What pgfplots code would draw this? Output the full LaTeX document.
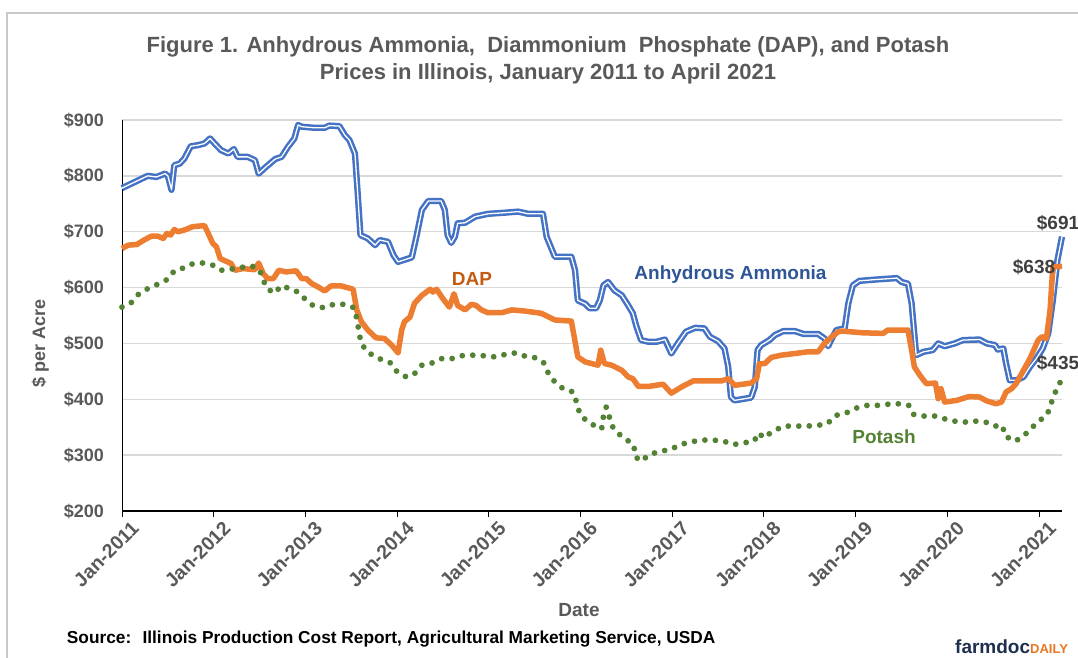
\documentclass[border=0pt]{standalone}
\usepackage{fontspec}
\setmainfont{Liberation Sans}
\usepackage{pgfplots}
\pgfplotsset{compat=1.18}
\definecolor{ammblue}{HTML}{4472C4}
\definecolor{daporange}{HTML}{ED7D31}
\definecolor{potgreen}{HTML}{548235}
\definecolor{labgray}{HTML}{595959}
\definecolor{gridgray}{HTML}{D9D9D9}
\definecolor{ammlab}{HTML}{2F5597}
\definecolor{daplab}{HTML}{C55A11}
\definecolor{dlab}{HTML}{404040}
\definecolor{framegray}{HTML}{C8C8C8}
\definecolor{navy}{HTML}{1F2D4E}
\definecolor{logoorange}{HTML}{E87722}
\newcommand\fs[1]{\fontsize{#1}{#1}\selectfont\bfseries}
\begin{document}
\begin{tikzpicture}[x=1pt,y=1pt]
\path[use as bounding box] (0,0) rectangle (1078,658);
\draw[framegray, line width=2pt] (7,0) -- (7,644.7) -- (1078,644.7);
\node[anchor=base, labgray, font=\fs{22}, inner sep=0pt] at (548,605) {Figure 1. Anhydrous Ammonia,~ Diammonium~ Phosphate (DAP), and Potash};
\node[anchor=base, labgray, font=\fs{22}, inner sep=0pt] at (548,578) {Prices in Illinois, January 2011 to April 2021};
\node[anchor=base, labgray, font=\fs{18}, inner sep=0pt, rotate=90] at (45,315) {\$ per Acre};
\node[anchor=base, labgray, font=\fs{19}, inner sep=0pt] at (579,41) {Date};
\node[anchor=base west, black, font=\fs{17.3}, inner sep=0pt] at (66.7,14) {Source:~ Illinois Production Cost Report, Agricultural Marketing Service, USDA};
\node[anchor=base west, inner sep=0pt] at (955,4) {\fs{19}\color{navy}farmdoc\fs{13}\color{logoorange}DAILY};
\begin{axis}[
  at={(122pt,147pt)}, anchor=south west, scale only axis,
  width=940pt, height=391pt,
  xmin=2011, xmax=2021.25, ymin=200, ymax=900,
  axis x line*=bottom, axis y line*=left,
  x axis line style={black, line width=1.5pt, -},
  y axis line style={black, line width=0.9pt, -},
  xtick={2011,2012,2013,2014,2015,2016,2017,2018,2019,2020,2021},
  xticklabels={Jan-2011,Jan-2012,Jan-2013,Jan-2014,Jan-2015,Jan-2016,Jan-2017,Jan-2018,Jan-2019,Jan-2020,Jan-2021},
  ytick={200,300,400,500,600,700,800,900},
  yticklabels={\$200,\$300,\$400,\$500,\$600,\$700,\$800,\$900},
  tick align=outside, major tick length=6pt,
  xtick style={black, line width=1pt},
  ytick style={draw=none},
  xticklabel style={rotate=45, anchor=north east, font=\fs{19.5}, labgray, inner sep=1pt, yshift=-7pt, xshift=5pt},
  yticklabel style={anchor=east, font=\fs{18}, labgray, inner sep=0pt, xshift=-12pt},
  ymajorgrids, major grid style={gridgray, line width=1.3pt},
  clip=false,
]
\addplot[ammblue, line width=2.5pt, double=white, double distance=1.3pt, line join=round] coordinates {
(2011.00,778) (2011.14,789) (2011.28,800) (2011.375,798) (2011.47,804) (2011.50,800) (2011.54,775) (2011.57,819) (2011.63,822) (2011.68,831) (2011.75,853) (2011.83,855) (2011.90,858) (2011.96,867) (2012.01,858) (2012.08,846) (2012.16,840) (2012.22,848) (2012.26,834) (2012.37,834) (2012.45,828) (2012.49,804) (2012.57,816) (2012.67,830) (2012.74,834) (2012.81,852) (2012.88,867) (2012.92,891) (2012.96,888) (2013.10,886) (2013.21,886) (2013.26,890) (2013.37,889) (2013.43,873) (2013.48,864) (2013.54,840) (2013.57,769) (2013.60,694) (2013.68,688) (2013.76,676) (2013.81,685) (2013.90,682) (2013.96,658) (2014.01,646) (2014.16,654) (2014.21,691) (2014.27,739) (2014.34,755) (2014.48,755) (2014.52,739) (2014.55,694) (2014.59,680) (2014.63,691) (2014.66,715) (2014.74,716) (2014.85,727) (2014.99,732) (2015.17,734) (2015.32,736) (2015.43,732) (2015.59,732) (2015.63,691) (2015.72,655) (2015.90,655) (2015.94,631) (2015.97,577) (2016.05,571) (2016.10,563) (2016.17,563) (2016.21,577) (2016.25,604) (2016.30,610) (2016.37,595) (2016.45,586) (2016.52,568) (2016.57,554) (2016.61,530) (2016.66,506) (2016.74,503) (2016.83,503) (2016.92,507) (2016.99,482) (2017.06,500) (2017.15,521) (2017.25,528) (2017.35,527) (2017.41,512) (2017.50,504) (2017.57,491) (2017.61,458) (2017.64,404) (2017.68,398) (2017.86,403) (2017.90,422) (2017.93,488) (2017.97,497) (2018.06,506) (2018.12,515) (2018.21,522) (2018.34,522) (2018.43,517) (2018.59,517) (2018.66,509) (2018.70,495) (2018.75,512) (2018.79,524) (2018.88,527) (2018.92,572) (2018.97,604) (2019.04,612) (2019.19,614) (2019.45,617) (2019.50,610) (2019.57,607) (2019.61,572) (2019.66,479) (2019.74,485) (2019.84,488) (2019.90,500) (2019.97,495) (2020.08,500) (2020.17,506) (2020.35,507) (2020.43,500) (2020.52,497) (2020.55,489) (2020.61,491) (2020.64,464) (2020.68,434) (2020.75,434) (2020.83,440) (2020.90,458) (2020.97,473) (2021.04,491) (2021.10,518) (2021.15,577) (2021.20,649) (2021.25,691)
};
\addplot[daporange, line width=5.5pt, line join=round] coordinates {
(2011.00,670) (2011.07,676) (2011.16,677) (2011.25,686) (2011.32,692) (2011.39,692) (2011.45,688) (2011.49,697) (2011.53,694) (2011.57,704) (2011.61,700) (2011.68,703) (2011.77,709) (2011.90,711) (2011.94,697) (2011.99,679) (2012.03,673) (2012.07,652) (2012.19,643) (2012.23,631) (2012.32,634) (2012.45,632) (2012.49,644) (2012.54,625) (2012.59,616) (2012.65,616) (2012.71,631) (2012.79,628) (2012.90,630) (2012.96,616) (2013.01,616) (2013.07,607) (2013.14,601) (2013.21,594) (2013.28,603) (2013.39,603) (2013.52,597) (2013.56,560) (2013.61,539) (2013.68,524) (2013.77,510) (2013.86,509) (2013.94,497) (2014.01,483) (2014.05,524) (2014.08,539) (2014.14,547) (2014.19,572) (2014.27,586) (2014.36,597) (2014.39,592) (2014.43,597) (2014.50,580) (2014.57,565) (2014.62,589) (2014.66,568) (2014.74,560) (2014.81,570) (2014.86,568) (2014.92,560) (2014.99,555) (2015.14,555) (2015.25,560) (2015.39,558) (2015.57,554) (2015.72,542) (2015.90,540) (2015.97,476) (2016.05,467) (2016.19,461) (2016.22,488) (2016.26,464) (2016.34,461) (2016.45,452) (2016.52,440) (2016.57,437) (2016.63,423) (2016.74,423) (2016.90,427) (2016.99,411) (2017.10,422) (2017.23,433) (2017.54,433) (2017.61,437) (2017.68,425) (2017.86,429) (2017.92,437) (2017.95,464) (2018.01,464) (2018.08,475) (2018.19,479) (2018.34,482) (2018.48,485) (2018.59,485) (2018.66,500) (2018.74,512) (2018.81,521) (2018.86,522) (2019.08,519) (2019.30,518) (2019.35,524) (2019.57,524) (2019.61,488) (2019.64,458) (2019.70,443) (2019.77,428) (2019.87,429) (2019.90,401) (2019.93,419) (2019.97,395) (2020.10,398) (2020.24,405) (2020.35,404) (2020.43,397) (2020.53,392) (2020.59,395) (2020.64,413) (2020.70,419) (2020.75,428) (2020.83,452) (2020.90,473) (2020.99,506) (2021.03,512) (2021.08,509) (2021.12,560) (2021.15,637) (2021.25,638)
};
\addplot[potgreen, line width=5.8pt, line cap=round, dash pattern=on 0pt off 10.5pt] coordinates {
(2011.00,565) (2011.10,573) (2011.18,588) (2011.28,598) (2011.39,606) (2011.50,615) (2011.57,630) (2011.67,635) (2011.76,642) (2011.88,644) (2011.99,640) (2012.08,631) (2012.19,633) (2012.30,636) (2012.41,639) (2012.50,632) (2012.54,613) (2012.59,597) (2012.67,590) (2012.73,603) (2012.84,598) (2012.93,591) (2013.01,577) (2013.09,567) (2013.20,564) (2013.31,570) (2013.42,570) (2013.53,564) (2013.56,545) (2013.58,525) (2013.60,506) (2013.65,489) (2013.73,479) (2013.83,471) (2013.93,465) (2014.00,449) (2014.10,440) (2014.19,446) (2014.27,461) (2014.38,465) (2014.49,473) (2014.60,473) (2014.71,478) (2014.83,479) (2014.94,478) (2015.06,476) (2015.17,480) (2015.29,483) (2015.40,477) (2015.52,474) (2015.60,465) (2015.65,446) (2015.72,431) (2015.81,419) (2015.92,413) (2015.96,393) (2015.99,375) (2016.06,362) (2016.15,353) (2016.23,347) (2016.25,370) (2016.28,386) (2016.31,371) (2016.34,353) (2016.40,340) (2016.50,328) (2016.58,318) (2016.60,297) (2016.66,289) (2016.75,301) (2016.87,307) (2016.98,310) (2017.09,319) (2017.21,324) (2017.32,327) (2017.44,327) (2017.56,325) (2017.67,319) (2017.78,322) (2017.89,325) (2017.95,340) (2017.99,331) (2018.03,335) (2018.11,344) (2018.22,352) (2018.34,352) (2018.45,352) (2018.57,353) (2018.69,356) (2018.78,371) (2018.89,375) (2019.00,384) (2019.12,389) (2019.23,389) (2019.34,391) (2019.46,392) (2019.58,389) (2019.63,373) (2019.74,370) (2019.86,370) (2019.97,365) (2020.07,361) (2020.18,359) (2020.30,361) (2020.42,359) (2020.51,352) (2020.60,353) (2020.63,334) (2020.74,325) (2020.83,334) (2020.92,349) (2021.00,361) (2021.09,373) (2021.13,392) (2021.17,410) (2021.22,428) (2021.25,435)
};
\end{axis}
\node[anchor=base, ammlab, font=\fs{19}, inner sep=0pt] at (730.5,378.7) {Anhydrous Ammonia};
\node[anchor=base, daplab, font=\fs{19}, inner sep=0pt] at (472,372.3) {DAP};
\node[anchor=base, potgreen, font=\fs{19}, inner sep=0pt] at (884,214.7) {Potash};
\node[anchor=base west, dlab, font=\fs{19}, inner sep=0pt] at (1036.7,428.7) {\$691};
\node[anchor=base west, dlab, font=\fs{19}, inner sep=0pt] at (1012.7,384.7) {\$638};
\node[anchor=base west, dlab, font=\fs{19}, inner sep=0pt] at (1036.7,288.7) {\$435};
\end{tikzpicture}
\end{document}
